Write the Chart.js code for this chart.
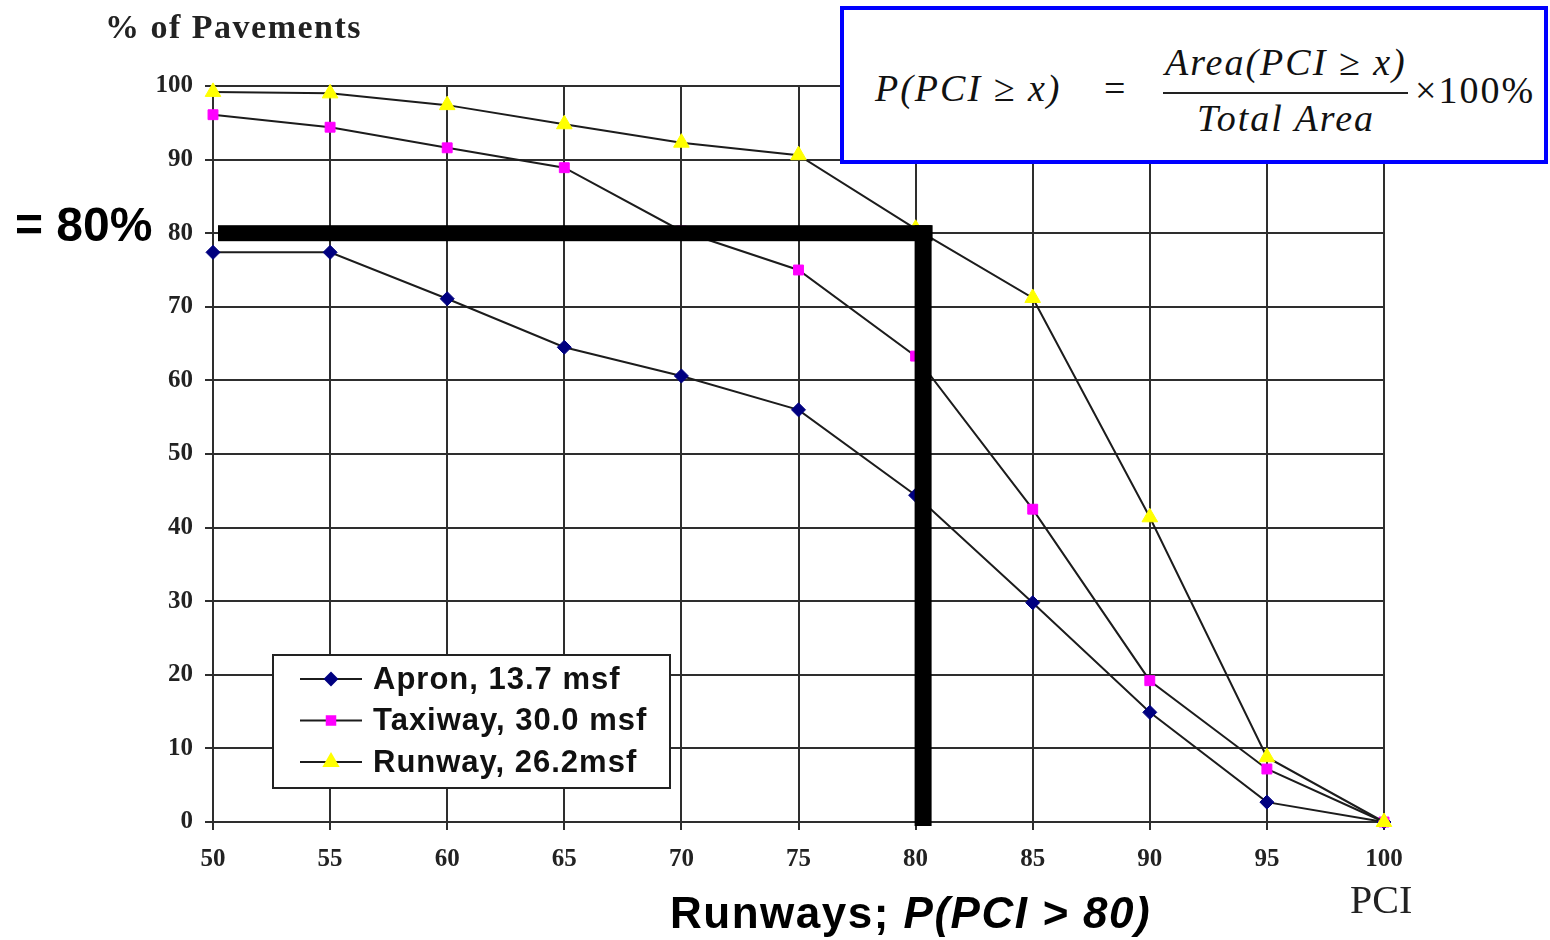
<!DOCTYPE html>
<html>
<head>
<meta charset="utf-8">
<script src="https://cdn.jsdelivr.net/npm/chart.js@4.4.1/dist/chart.umd.min.js"></script>
<style>
  html,body{margin:0;padding:0;background:#fff;}
  #wrap{position:relative;width:1550px;height:940px;overflow:hidden;}
  #wrap canvas{position:absolute;left:0;top:0;}
  /* formula box, top right */
  .formula{position:absolute;left:840px;top:6px;width:700px;height:150px;border:4px solid #0000ff;background:#fff;
    font-family:"Liberation Serif","Times New Roman",serif;font-style:italic;font-size:38px;letter-spacing:2px;color:#111;}
  .formula span,.formula div{position:absolute;white-space:nowrap;line-height:1;transform:translateY(-50%);}
  .formula .up{font-style:normal;}
  .formula .bar{transform:none;height:2px;background:#222;}
</style>
</head>
<body>
<div id="wrap">
  <canvas id="c" width="1550" height="940"></canvas>
  <div class="formula">
    <span style="left:31px;top:78px">P(PCI ≥ x)</span>
    <span class="up" style="left:260px;top:78px">=</span>
    <span style="left:321px;top:52px">Area(PCI ≥ x)</span>
    <div class="bar" style="left:319px;top:82px;width:245px"></div>
    <span style="left:353px;top:108px">Total Area</span>
    <span class="up" style="left:571px;top:80px">×100%</span>
  </div>
</div>
<script>
(function(){
  // cumulative share of pavement area with PCI >= x
  const PCI     = [50,55,60,65,70,75,80,85,90,95,100];
  const APRON   = [77.4,77.4,71.1,64.5,60.6,56.0,44.4,29.8,14.9,2.7,0];
  const TAXIWAY = [96.1,94.4,91.6,88.9,80.3,75.0,63.3,42.5,19.2,7.2,0];
  const RUNWAY  = [99.2,99.0,97.4,94.8,92.3,90.6,80.6,71.2,41.4,8.8,0];
  const NAMES   = ['Apron, 13.7 msf','Taxiway, 30.0 msf','Runway, 26.2msf'];
  const X_STEP = 5, Y_STEP = 10;
  const MARK_X = 80, MARK_Y = 80;   // highlighted runway reading

  const LINE='#1c1c1c', GRID='#2e2e2e';
  const STYLES=[
    {pointStyle:'rectRot',color:'#000080',r:7},
    {pointStyle:'rect',color:'#ff00ff',r:7},
    {pointStyle:'triangle',color:'#ffff00',r:9}
  ];
  const pts=ys=>PCI.map((x,i)=>({x,y:ys[i]}));
  // later series painted over earlier ones
  const datasets=[APRON,TAXIWAY,RUNWAY].map((ys,i)=>({
    label:NAMES[i],data:pts(ys),order:2-i,borderColor:LINE,borderWidth:2,tension:0,clip:false,
    pointStyle:STYLES[i].pointStyle,pointRadius:STYLES[i].r,
    pointBackgroundColor:STYLES[i].color,pointBorderColor:STYLES[i].color,pointBorderWidth:1
  }));

  const serifBold=s=>'bold '+s+'px "Liberation Serif","Times New Roman",serif';
  const sansBold=s=>'bold '+s+'px "Liberation Sans",Arial,sans-serif';

  // thick reference lines at PCI 80 / 80 %
  const marker={id:'marker',afterDatasetsDraw(ch){
    const {ctx,scales:{x,y}}=ch;
    const px=x.getPixelForValue(MARK_X), py=y.getPixelForValue(MARK_Y);
    const x0=x.getPixelForValue(50)+5;
    ctx.save();ctx.fillStyle='#000';
    ctx.fillRect(x0,py-8,px+17-x0,16);
    ctx.fillRect(px-1,py-8,17,y.getPixelForValue(0)+4-(py-8));
    ctx.restore();
  }};

  // boxed legend inside the plot + free text
  const extras={id:'extras',afterDraw(ch){
    const ctx=ch.ctx;ctx.save();
    const bx=273,by=655,bw=397,bh=133;
    ctx.fillStyle='#fff';ctx.fillRect(bx,by,bw,bh);
    ctx.strokeStyle='#222';ctx.lineWidth=2;ctx.strokeRect(bx,by,bw,bh);
    NAMES.forEach((n,i)=>{
      const yy=679+i*41.5;
      ctx.strokeStyle=LINE;ctx.lineWidth=2;
      ctx.beginPath();ctx.moveTo(300,yy);ctx.lineTo(362,yy);ctx.stroke();
      ctx.fillStyle=STYLES[i].color;ctx.strokeStyle=STYLES[i].color;
      Chart.helpers.drawPoint(ctx,{pointStyle:STYLES[i].pointStyle,radius:STYLES[i].r-1,borderWidth:1},331,yy);
      ctx.fillStyle='#111';ctx.font=sansBold(31);ctx.letterSpacing='1px';
      ctx.textBaseline='middle';ctx.textAlign='left';
      ctx.fillText(n,373,yy+1);
    });
    ctx.fillStyle='#222';ctx.font=serifBold(34);ctx.letterSpacing='1.5px';ctx.textBaseline='middle';
    ctx.fillText('% of Pavements',105,29);
    ctx.letterSpacing='0px';
    ctx.font='40px "Liberation Serif","Times New Roman",serif';
    ctx.fillText('PCI',1350,902);
    ctx.fillStyle='#000';ctx.font=sansBold(48);
    ctx.fillText('= 80%',15,228);
    ctx.font=sansBold(44);ctx.letterSpacing='1.5px';
    const a='Runways; ';ctx.fillText(a,670,916);
    const w=ctx.measureText(a).width;
    ctx.font='italic '+sansBold(44);ctx.fillText('P(PCI > 80)',670+w,916);
    ctx.restore();
  }};

  const tickFont={family:'"Liberation Serif"',size:25,weight:'bold'};
  new Chart(document.getElementById('c'),{
    type:'line',
    data:{datasets},
    options:{
      responsive:false,animation:false,events:[],
      layout:{padding:{left:0,top:86,right:166,bottom:0}},
      plugins:{legend:{display:false},tooltip:{enabled:false},title:{display:false}},
      scales:{
        x:{type:'linear',min:50,max:100,
          afterFit:s=>{s.height=118;},
          grid:{color:GRID,lineWidth:2,tickLength:8,drawTicks:true},
          border:{color:GRID,width:2},
          ticks:{stepSize:X_STEP,padding:15,color:'#222',font:tickFont}},
        y:{min:0,max:100,
          afterFit:s=>{s.width=213;},
          grid:{color:GRID,lineWidth:2,tickLength:8,drawTicks:true},
          border:{color:GRID,width:2},
          ticks:{stepSize:Y_STEP,padding:12,color:'#222',font:tickFont}}
      }
    },
    plugins:[marker,extras]
  });
})();
</script>
</body>
</html>
